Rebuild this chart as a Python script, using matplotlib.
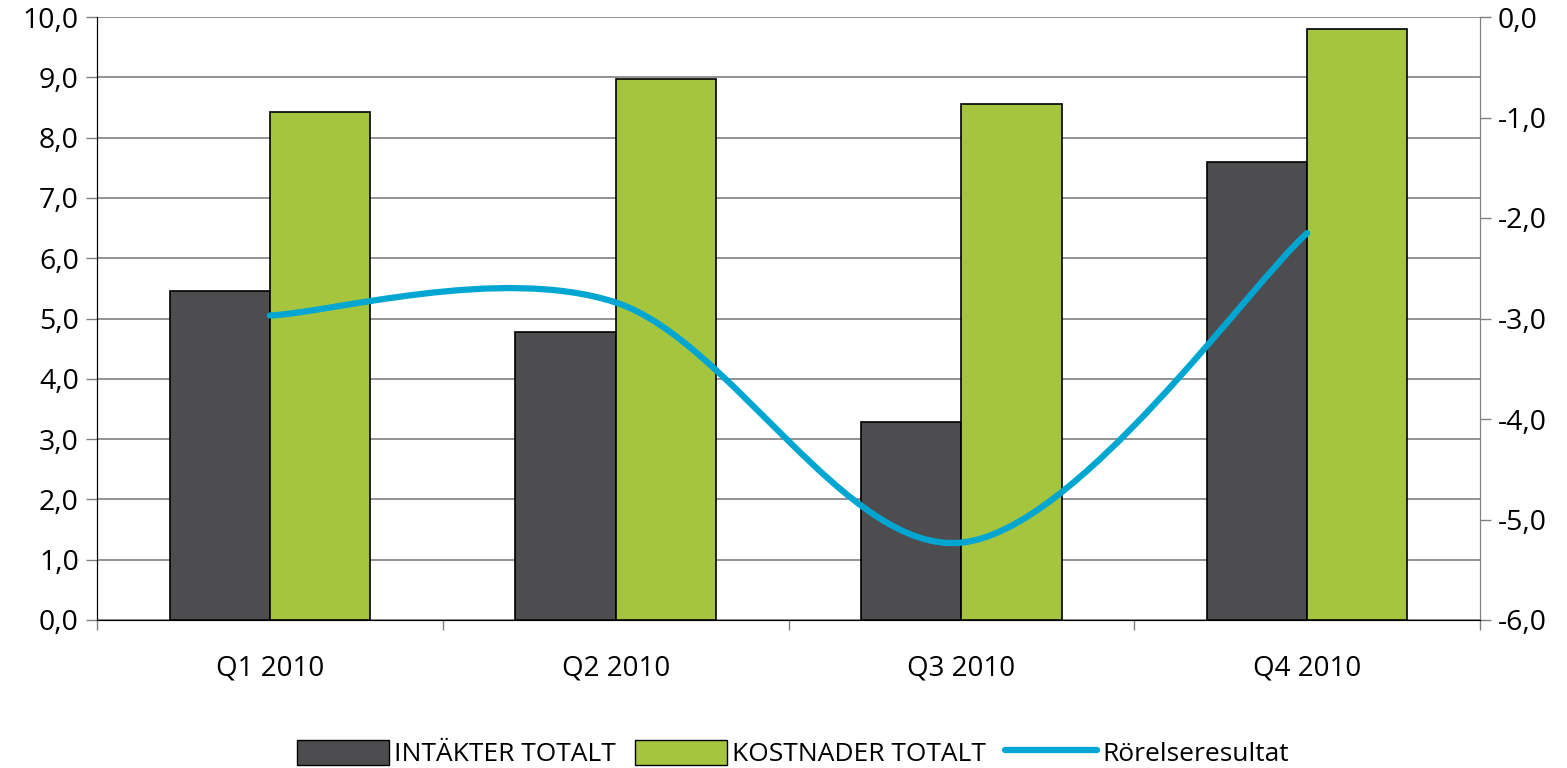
import numpy as np
import matplotlib
matplotlib.use("Agg")
import matplotlib.pyplot as plt
from matplotlib.path import Path
from matplotlib.patches import PathPatch
from matplotlib.lines import Line2D
from matplotlib.patches import Patch

plt.rcParams['font.family'] = ['Open Sans', 'DejaVu Sans']

kvartal = ["Q1 2010", "Q2 2010", "Q3 2010", "Q4 2010"]
intakter = [5.45, 4.78, 3.28, 7.60]
kostnader = [8.42, 8.98, 8.55, 9.80]
rorelse = [-2.97, -2.84, -5.23, -2.15]
left_ticks = [0, 1, 2, 3, 4, 5, 6, 7, 8, 9, 10]
right_ticks = [-6, -5, -4, -3, -2, -1, 0]

c_dark = "#4d4d4f"
c_green = "#a6c53f"
c_line = "#00a6d2"

fig = plt.figure(figsize=(15.67, 7.68), dpi=100)
ax = fig.add_axes([97/1567, 148/768, (1480-97)/1567, (620-17)/768])
x = np.arange(len(kvartal))
w = 0.29
ax.bar(x - w/2, intakter, w, color=c_dark, edgecolor="black", linewidth=1.2, zorder=2)
ax.bar(x + w/2, kostnader, w, color=c_green, edgecolor="black", linewidth=1.2, zorder=2)
ax.set_xlim(-0.5, 3.5)
ax.set_ylim(0, 10)
ax.set_yticks(left_ticks)
ax.set_yticklabels([f"{v:.1f}".replace(".", ",") for v in left_ticks])
ax.yaxis.grid(True, color="#808080", linewidth=1.2, zorder=0)
ax.set_axisbelow(True)
ax.set_xticks([-0.5, 0.5, 1.5, 2.5, 3.5])
ax.set_xticklabels([])
ax.set_xticks(x, minor=True)
ax.set_xticklabels(kvartal, minor=True, fontsize=20)
ax.tick_params(axis="x", which="major", length=7, width=1, color="#808080")
ax.tick_params(axis="x", which="minor", length=0, pad=25)
ax.tick_params(axis="y", length=8, width=1, color="#808080", labelsize=20.5, pad=5)
ax.spines["top"].set_visible(False)
ax.spines["left"].set_color("black")
ax.spines["bottom"].set_color("#808080")
ax.spines["right"].set_color("#808080")

ax2 = ax.twinx()
ax2.set_ylim(-6, 0)
ax2.set_yticks(right_ticks)
ax2.set_yticklabels([f"{v:.1f}".replace(".", ",") for v in right_ticks])
ax2.tick_params(axis="y", length=8, width=1, color="#808080", labelsize=20.5, pad=5)
ax2.spines["top"].set_visible(False)
ax2.spines["right"].set_color("#808080")

# smoothed line (Excel style bezier through the quarter values)
pts = list(zip(x.astype(float), rorelse))
verts = [pts[0]]
codes = [Path.MOVETO]
n = len(pts)
for i in range(n - 1):
    p0 = pts[i - 1] if i > 0 else pts[i]
    p1 = pts[i]
    p2 = pts[i + 1]
    p3 = pts[i + 2] if i + 2 < n else pts[i + 1]
    c1 = (p1[0] + (p2[0] - p0[0]) / 6, p1[1] + (p2[1] - p0[1]) / 6)
    c2 = (p2[0] - (p3[0] - p1[0]) / 6, p2[1] - (p3[1] - p1[1]) / 6)
    verts += [c1, c2, p2]
    codes += [Path.CURVE4] * 3
ax2.add_patch(PathPatch(Path(verts, codes), facecolor="none", edgecolor=c_line,
                        linewidth=4.5, capstyle="round", zorder=3))

handles = [Patch(facecolor=c_dark, edgecolor="black"),
           Patch(facecolor=c_green, edgecolor="black"),
           Line2D([0], [0], color=c_line, linewidth=4.5, solid_capstyle="round")]
fig.legend(handles, ["INTÄKTER TOTALT", "KOSTNADER TOTALT", "Rörelseresultat"],
           loc="lower center", bbox_to_anchor=(0.506, -0.03), ncol=3, frameon=False,
           fontsize=19, handlelength=3.5, handleheight=1.1, handletextpad=0.2,
           columnspacing=0.7)

fig.savefig("out.png", dpi=100)
